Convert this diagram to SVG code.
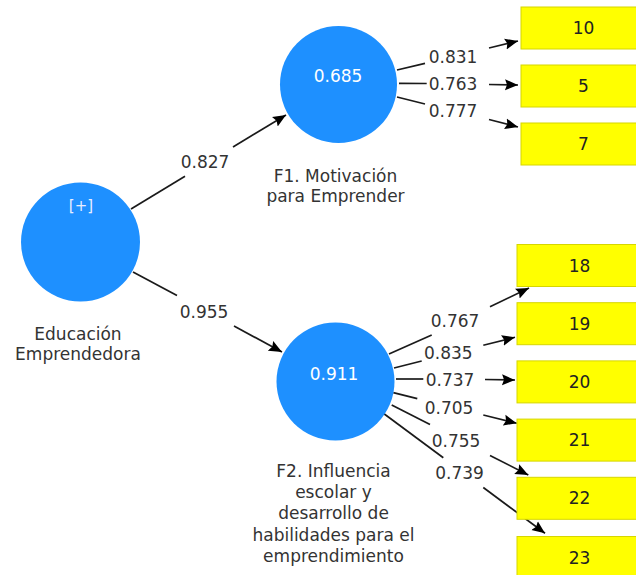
<svg xmlns="http://www.w3.org/2000/svg" width="636" height="575" viewBox="0 0 636 575">
<defs>
<style>
.ln{stroke:#1a1a1a;stroke-width:1.7;fill:none}
.ar{marker-end:url(#ah)}
.lbl{font-family:"DejaVu Sans","Liberation Sans",sans-serif;font-size:17px;fill:#333;text-anchor:middle}
.nm{font-family:"DejaVu Sans","Liberation Sans",sans-serif;font-size:17px;fill:#333;text-anchor:middle}
.cv{font-family:"DejaVu Sans","Liberation Sans",sans-serif;font-size:17px;fill:#fff;text-anchor:middle}
.bx{fill:#ffff00;stroke:#d6d600;stroke-width:1}
.bt{font-family:"DejaVu Sans","Liberation Sans",sans-serif;font-size:17px;fill:#222;text-anchor:middle}
.lv{fill:#1e90ff}
</style>
<marker id="ah" markerUnits="userSpaceOnUse" markerWidth="14" markerHeight="12" refX="13" refY="6" orient="auto">
<path d="M0,0.5 L13,6 L0,11.5 L2,6 Z" fill="#000"/>
</marker>
</defs>
<rect width="636" height="575" fill="#fff"/>
<g id="connectors">
<line class="ln" x1="131" y1="209" x2="185" y2="176.3"/>
<line class="ln ar" x1="233" y1="147" x2="286" y2="115"/>
<text class="lbl" x="205" y="168">0.827</text>
<line class="ln" x1="133" y1="272" x2="177" y2="295.5"/>
<line class="ln ar" x1="234" y1="326" x2="282" y2="352"/>
<text class="lbl" x="204" y="318">0.955</text>
<line class="ln" x1="397" y1="70" x2="425" y2="63.3"/>
<line class="ln ar" x1="489" y1="48" x2="518" y2="41"/>
<text class="lbl" x="453" y="63">0.831</text>
<line class="ln" x1="399" y1="83.3" x2="426.7" y2="83.5"/>
<line class="ln ar" x1="489" y1="84.5" x2="518" y2="85"/>
<text class="lbl" x="453" y="89.5">0.763</text>
<line class="ln" x1="397" y1="97" x2="425" y2="104"/>
<line class="ln ar" x1="489" y1="119.5" x2="518" y2="127"/>
<text class="lbl" x="453" y="117">0.777</text>
<line class="ln" x1="389" y1="354" x2="431.7" y2="335"/>
<line class="ln ar" x1="490" y1="306.7" x2="529" y2="288"/>
<text class="lbl" x="455" y="326.5">0.767</text>
<line class="ln" x1="394" y1="368" x2="421.7" y2="361"/>
<line class="ln ar" x1="483.3" y1="345.3" x2="515" y2="337.3"/>
<text class="lbl" x="448.3" y="359">0.835</text>
<line class="ln" x1="396" y1="379" x2="423.3" y2="379"/>
<line class="ln ar" x1="485" y1="379.5" x2="515" y2="380"/>
<text class="lbl" x="450" y="386">0.737</text>
<line class="ln" x1="393.3" y1="392.7" x2="417.3" y2="398.6"/>
<line class="ln ar" x1="483.3" y1="415" x2="516.7" y2="423.3"/>
<text class="lbl" x="449" y="414">0.705</text>
<line class="ln" x1="391.7" y1="405" x2="430" y2="424.6"/>
<line class="ln ar" x1="490" y1="455.4" x2="528.3" y2="475"/>
<text class="lbl" x="456" y="447">0.755</text>
<line class="ln" x1="383.3" y1="413.3" x2="443.3" y2="457.8"/>
<line class="ln ar" x1="483.3" y1="487.5" x2="545" y2="533.3"/>
<text class="lbl" x="459.5" y="479">0.739</text>
</g>
<g id="n-educacion">
<circle class="lv" cx="80.5" cy="242" r="59.5"/>
<text x="81" y="211" font-family="DejaVu Sans, Liberation Sans, sans-serif" font-size="15" fill="#e8eeff" text-anchor="middle">[+]</text>
<text class="nm" x="78" y="340">Educación</text>
<text class="nm" x="78" y="360">Emprendedora</text>
</g>
<g id="n-f1">
<circle class="lv" cx="338.5" cy="84.5" r="58.5"/>
<text class="cv" x="338" y="82.3">0.685</text>
<text class="nm" x="335.5" y="181.7">F1. Motivación</text>
<text class="nm" x="335.5" y="201.7">para Emprender</text>
</g>
<g id="n-f2">
<circle class="lv" cx="335.5" cy="381.5" r="59"/>
<text class="cv" x="334" y="380">0.911</text>
<text class="nm" x="333.5" y="476.5">F2. Influencia</text>
<text class="nm" x="333.5" y="497.5">escolar y</text>
<text class="nm" x="333.5" y="519">desarrollo de</text>
<text class="nm" x="333.5" y="540.5">habilidades para el</text>
<text class="nm" x="333.5" y="562">emprendimiento</text>
</g>
<g id="i10"><rect class="bx" x="521" y="7" width="125" height="42"/><text class="bt" x="583.5" y="34">10</text></g>
<g id="i5"><rect class="bx" x="521" y="65" width="125" height="42"/><text class="bt" x="583.5" y="92">5</text></g>
<g id="i7"><rect class="bx" x="521" y="123" width="125" height="42"/><text class="bt" x="583.5" y="150">7</text></g>
<g id="i18"><rect class="bx" x="517" y="244.5" width="125" height="42"/><text class="bt" x="579.5" y="271.5">18</text></g>
<g id="i19"><rect class="bx" x="517" y="302.7" width="125" height="42"/><text class="bt" x="579.5" y="329.7">19</text></g>
<g id="i20"><rect class="bx" x="517" y="360.9" width="125" height="42"/><text class="bt" x="579.5" y="387.9">20</text></g>
<g id="i21"><rect class="bx" x="517" y="419.1" width="125" height="42"/><text class="bt" x="579.5" y="446.1">21</text></g>
<g id="i22"><rect class="bx" x="517" y="477.3" width="125" height="42"/><text class="bt" x="579.5" y="504.3">22</text></g>
<g id="i23"><rect class="bx" x="517" y="536.5" width="125" height="42"/><text class="bt" x="579.5" y="563.5">23</text></g>
</svg>
